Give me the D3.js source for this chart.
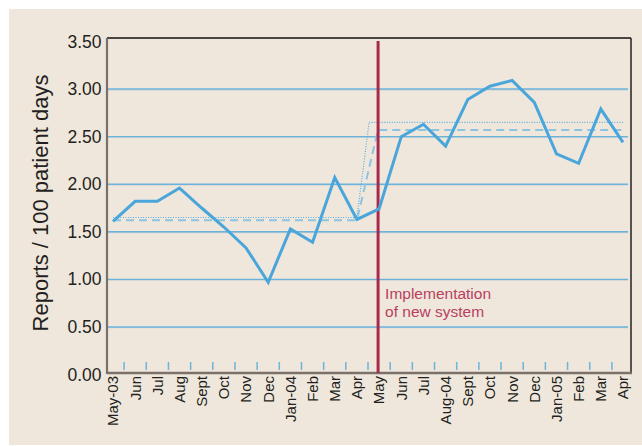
<!DOCTYPE html>
<html><head><meta charset="utf-8">
<script src="https://cdn.jsdelivr.net/npm/d3@7"></script>
<style>
html,body{margin:0;padding:0;background:#fff;}
svg{display:block;}
text{font-family:"Liberation Sans",Arial,sans-serif;}
</style></head>
<body>
<svg id="chart" width="642" height="446"></svg>
<script>
const months = ["May-03","Jun","Jul","Aug","Sept","Oct","Nov","Dec","Jan-04","Feb","Mar","Apr",
                "May","Jun ","Jul ","Aug-04","Sept ","Oct ","Nov ","Dec ","Jan-05","Feb ","Mar ","Apr "];
const reports = [1.61,1.82,1.82,1.96,1.75,1.55,1.33,0.97,1.53,1.39,2.07,1.63,
                 1.74,2.50,2.63,2.40,2.89,3.03,3.09,2.86,2.32,2.22,2.79,2.44];
const dashedMeans = [1.62, 2.57];
const dottedMeans = [1.65, 2.65];
const yTicks = [0,0.5,1,1.5,2,2.5,3,3.5];
const implementationMonth = "May";
const annotationLines = ["Implementation","of new system"];
const yTitle = "Reports / 100 patient days";

const svg = d3.select("#chart");
const L=107, R=630, T=38, B=373;

svg.append("rect").attr("x",9).attr("y",9).attr("width",633).attr("height",436).attr("fill","#efe7dc");

const x = d3.scalePoint().domain(months).range([113,623]);
const y = d3.scaleLinear().domain([0,3.5]).range([374.5,41.5]);

// gridlines
svg.append("g").selectAll("line").data(yTicks.filter(v=>v>0 && v<3.5)).join("line")
  .attr("x1",L+1).attr("x2",R-2).attr("y1",d=>y(d)+0.8).attr("y2",d=>y(d)+0.8)
  .attr("stroke","#c9d3d6").attr("stroke-width",1.2);
svg.append("g").selectAll("line").data(yTicks.filter(v=>v>0 && v<3.5)).join("line")
  .attr("x1",L+1).attr("x2",R-2).attr("y1",d=>y(d)).attr("y2",d=>y(d))
  .attr("stroke","#6cb3dc").attr("stroke-width",1.4);

// small bottom ticks between months
const step = x.step();
svg.append("g").selectAll("line").data(months.slice(0,-1)).join("line")
  .attr("x1",d=>x(d)+step/2).attr("x2",d=>x(d)+step/2)
  .attr("y1",362).attr("y2",370)
  .attr("stroke","#6ab4de").attr("stroke-width",1.5);

// frame
svg.append("line").attr("x1",L).attr("x2",R+1).attr("y1",T).attr("y2",T).attr("stroke","#111").attr("stroke-width",1.5);
svg.append("line").attr("x1",R+1).attr("x2",R+1).attr("y1",T).attr("y2",B).attr("stroke","#222").attr("stroke-width",1.5);
svg.append("line").attr("x1",L).attr("x2",L).attr("y1",T).attr("y2",B+1).attr("stroke","#7a716a").attr("stroke-width",2.2);
svg.append("line").attr("x1",L).attr("x2",R+2).attr("y1",B).attr("y2",B).attr("stroke","#7a716a").attr("stroke-width",2.5);

// mean lines
const iSplit = months.indexOf(implementationMonth);
function meanPts(m, frac){
  const a = months[iSplit-1], b = months[iSplit];
  return [[x(months[0]),y(m[0])],[x(a),y(m[0])],
          [x(a)+(x(b)-x(a))*frac,y(m[1])],[x(months[months.length-1]),y(m[1])]];
}
svg.append("path").attr("d",d3.line()(meanPts(dottedMeans,0.55)))
  .attr("fill","none").attr("stroke","#5aaee0").attr("stroke-width",1.2).attr("stroke-dasharray","1,1.5");
svg.append("path").attr("d",d3.line()(meanPts(dashedMeans,0.95)))
  .attr("fill","none").attr("stroke","#8cc4e2").attr("stroke-width",2).attr("stroke-dasharray","8,5");

// implementation line
svg.append("line").attr("x1",x(implementationMonth)-1).attr("x2",x(implementationMonth)-1)
  .attr("y1",41).attr("y2",B).attr("stroke","#a8294b").attr("stroke-width",3);

// data line
svg.append("path").datum(reports)
  .attr("d",d3.line().x((d,i)=>x(months[i])).y(d=>y(d)))
  .attr("fill","none").attr("stroke","#4aa6da").attr("stroke-width",3).attr("stroke-linejoin","miter");

// annotation
svg.append("g").selectAll("text").data(annotationLines).join("text")
  .attr("x",x(implementationMonth)+6).attr("y",(d,i)=>299+i*18)
  .attr("font-size",15.5).attr("fill","#b9405f").text(d=>d);

// y tick labels
svg.append("g").selectAll("text").data(yTicks).join("text")
  .attr("x",101.5).attr("y",d=>y(d)).attr("dy","0.35em").attr("text-anchor","end")
  .attr("font-size",17.5).attr("fill","#231f20").text(d=>d3.format(".2f")(d));

// x labels
svg.append("g").selectAll("text").data(months).join("text")
  .attr("transform",d=>`translate(${x(d)},376) rotate(-90)`)
  .attr("dy","0.36em").attr("text-anchor","end")
  .attr("font-size",15).attr("fill","#231f20").text(d=>d.trim());

// y title
svg.append("text").attr("transform","translate(48,203) rotate(-90)")
  .attr("text-anchor","middle").attr("font-size",22).attr("fill","#231f20").text(yTitle);
</script>
</body></html>
